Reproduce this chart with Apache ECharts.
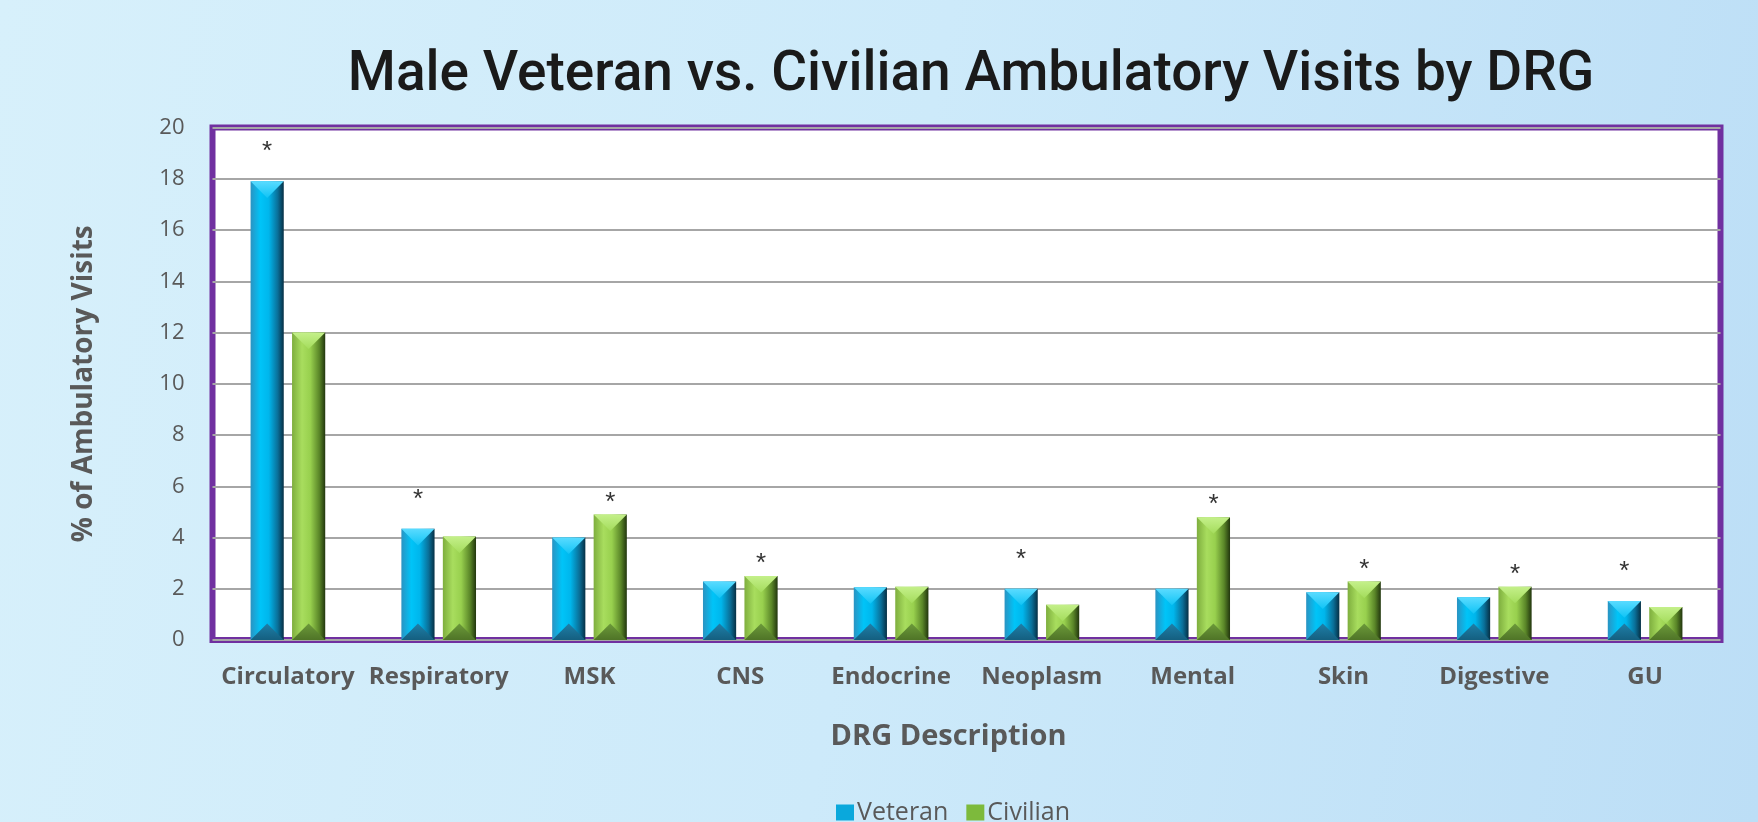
<!DOCTYPE html>
<html>
<head>
<meta charset="utf-8">
<script src="https://cdn.jsdelivr.net/npm/echarts@6/dist/echarts.min.js"></script>
<style>
html,body{margin:0;padding:0;width:1758px;height:822px;overflow:hidden;
background:linear-gradient(100deg,#d7f0fb 0%,#cdeafa 50%,#bcdef6 100%);}
#c{width:1758px;height:822px;}
</style>
</head>
<body>
<div id="c"></div>
<script>
const categories = ['Circulatory','Respiratory','MSK','CNS','Endocrine','Neoplasm','Mental','Skin','Digestive','GU'];
const veteran  = [17.9, 4.34, 4.0, 2.28, 2.06, 2.0, 2.0, 1.86, 1.67, 1.52];
const civilian = [12.0, 4.04, 4.9, 2.5, 2.08, 1.38, 4.79, 2.28, 2.08, 1.29];
const veteranSig  = [true, true, false, false, false, true, false, false, false, true];
const civilianSig = [false, false, true, true, false, false, true, true, true, false];
const yTicks = [0,2,4,6,8,10,12,14,16,18,20];

const palettes = {
  blue: {
    body: ['#2a93c2','#00c4f8','#00b6ec','#0a6f98','#062f44'],
    topA: '#5adbff', topB: '#10c4f6',
    botA: '#1f7fa8', botB: '#145f80',
    legend: '#0aa8dc'
  },
  green: {
    body: ['#7eae3e','#a8dd5e','#98d04e','#5a8628','#22360e'],
    topA: '#c4f08a', topB: '#a4dc5c',
    botA: '#6c9a3a', botB: '#4f7427',
    legend: '#7dba3c'
  }
};

function makeRender(side, pal, sig, starGap) {
  return function (params, api) {
    const i = api.value(0), v = api.value(1);
    const top = api.coord([i, v]);
    const base = api.coord([i, 0]);
    const band = api.size([1, 0])[0];
    const w = band * 0.22, gap = band * 0.055;
    const cx = top[0] + side * (gap / 2 + w / 2);
    const x0 = cx - w / 2, x1 = cx + w / 2;
    const y0 = top[1], y1 = base[1];
    const h = y1 - y0;
    const d = Math.min(w * 0.5, h / 2);
    const b = pal.body;
    const children = [
      { type: 'rect', shape: { x: x0, y: y0, width: w, height: h },
        style: { fill: new echarts.graphic.LinearGradient(0, 0, 1, 0, [
          {offset: 0, color: b[0]}, {offset: 0.3, color: b[1]}, {offset: 0.55, color: b[2]},
          {offset: 0.82, color: b[3]}, {offset: 1, color: b[4]}]) } },
      { type: 'polygon', shape: { points: [[x0, y0], [x1, y0], [cx, y0 + d]] },
        style: { fill: new echarts.graphic.LinearGradient(0, 0, 0, 1, [
          {offset: 0, color: pal.topA}, {offset: 1, color: pal.topB}]) } },
      { type: 'polygon', shape: { points: [[x0, y1], [x1, y1], [cx, y1 - d]] },
        style: { fill: new echarts.graphic.LinearGradient(0, 0, 0, 1, [
          {offset: 0, color: pal.botA}, {offset: 1, color: pal.botB}]) } }
    ];
    if (sig[params.dataIndex]) {
      children.push({ type: 'text', style: { text: '*', x: cx, y: y0 - starGap,
        fill: '#333333', font: '26px "Liberation Sans"', align: 'center', verticalAlign: 'middle' } });
    }
    return { type: 'group', children: children };
  };
}

const chart = echarts.init(document.getElementById('c'), null, { renderer: 'canvas' });
chart.setOption({
  backgroundColor: 'transparent',
  animation: false,
  title: {
    text: 'Male Veteran vs. Civilian Ambulatory Visits by DRG',
    left: 966, top: 42, textAlign: 'center',
    textStyle: { fontFamily: 'Roboto', fontWeight: 500, fontSize: 55, color: '#1a1a1a', lineHeight: 58 }
  },
  legend: {
    data: ['Veteran', 'Civilian'],
    left: 831, top: 795, itemGap: 18, itemWidth: 18, itemHeight: 16, icon: 'rect',
    textStyle: { fontFamily: 'Open Sans', fontSize: 25, color: '#595959', padding: [0,0,0,-2] }
  },
  grid: { left: 212.5, right: 37.5, top: 127.5, bottom: 182, show: true,
    backgroundColor: '#ffffff', borderColor: '#7030a0', borderWidth: 6, containLabel: false },
  xAxis: {
    type: 'category', data: categories,
    name: 'DRG Description', nameLocation: 'middle', nameGap: 82,
    nameTextStyle: { fontFamily: 'Open Sans', fontWeight: 'bold', fontSize: 29, color: '#595959',
      padding: [0, 36, 0, 0] },
    axisLine: { show: false }, axisTick: { show: false },
    axisLabel: { fontFamily: 'Open Sans', fontWeight: 'bold', fontSize: 24, color: '#595959', margin: 25, interval: 0 }
  },
  yAxis: {
    type: 'value', min: 0, max: 20, interval: 2,
    name: '% of Ambulatory Visits', nameLocation: 'middle', nameGap: 114, nameRotate: 90,
    nameTextStyle: { fontFamily: 'Open Sans', fontWeight: 'bold', fontSize: 28, color: '#595959' },
    axisLine: { show: false }, axisTick: { show: false },
    axisLabel: { fontFamily: 'Open Sans', fontSize: 22, color: '#595959', margin: 28,
      formatter: function (val) { return yTicks.indexOf(val) >= 0 ? String(val) : ''; } },
    splitLine: { lineStyle: { color: '#a6a6a6', width: 2 } }
  },
  series: [
    { name: 'Veteran', type: 'custom', renderItem: makeRender(-1, palettes.blue, veteranSig, 29),
      itemStyle: { color: palettes.blue.legend }, encode: { x: 0, y: 1 },
      data: veteran.map((v, i) => [i, v]) },
    { name: 'Civilian', type: 'custom', renderItem: makeRender(1, palettes.green, civilianSig, 12),
      itemStyle: { color: palettes.green.legend }, encode: { x: 0, y: 1 },
      data: civilian.map((v, i) => [i, v]) }
  ]
});
</script>
</body>
</html>
